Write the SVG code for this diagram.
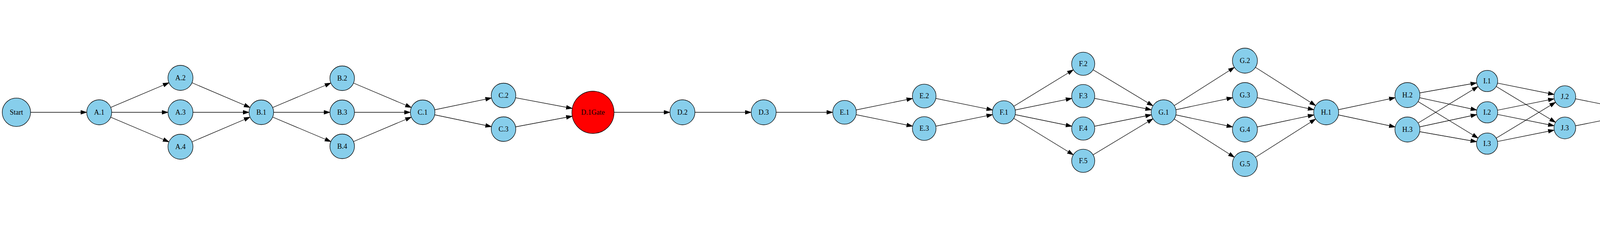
<svg xmlns="http://www.w3.org/2000/svg" width="7021" height="575" viewBox="0 0 7021 575">
<style>
.n circle{fill:#87ceeb;stroke:#000;stroke-width:1.3}
.n.gate circle{fill:#ff0000}
.n text{font-family:"Liberation Serif","Times New Roman",serif;font-size:18px;text-anchor:middle;fill:#000}
#connectors line{stroke:#000;stroke-width:1.3;fill:none}
.t32{marker-end:url(#m32)}.t31{marker-end:url(#m31)}.t30{marker-end:url(#m30)}.t29{marker-end:url(#m29)}
.t27{marker-end:url(#m27)}.t28{marker-end:url(#m28)}.t34{marker-end:url(#m34)}.t54{marker-end:url(#m54)}.t70{marker-end:url(#m70)}
</style>
<defs>
<path id="ah" d="M-15,-5 L0,0 L-15,5 Z" fill="#000" stroke="#000" stroke-width="1"/>
<marker id="m32" markerUnits="userSpaceOnUse" orient="auto" refX="32" refY="0" markerWidth="1" markerHeight="1" overflow="visible" style="overflow:visible"><use href="#ah"/></marker>
<marker id="m31" markerUnits="userSpaceOnUse" orient="auto" refX="31.5" refY="0" markerWidth="1" markerHeight="1" overflow="visible" style="overflow:visible"><use href="#ah"/></marker>
<marker id="m30" markerUnits="userSpaceOnUse" orient="auto" refX="30.3" refY="0" markerWidth="1" markerHeight="1" overflow="visible" style="overflow:visible"><use href="#ah"/></marker>
<marker id="m29" markerUnits="userSpaceOnUse" orient="auto" refX="29.6" refY="0" markerWidth="1" markerHeight="1" overflow="visible" style="overflow:visible"><use href="#ah"/></marker>
<marker id="m27" markerUnits="userSpaceOnUse" orient="auto" refX="27.2" refY="0" markerWidth="1" markerHeight="1" overflow="visible" style="overflow:visible"><use href="#ah"/></marker>
<marker id="m28" markerUnits="userSpaceOnUse" orient="auto" refX="27.8" refY="0" markerWidth="1" markerHeight="1" overflow="visible" style="overflow:visible"><use href="#ah"/></marker>
<marker id="m34" markerUnits="userSpaceOnUse" orient="auto" refX="34" refY="0" markerWidth="1" markerHeight="1" overflow="visible" style="overflow:visible"><use href="#ah"/></marker>
<marker id="m54" markerUnits="userSpaceOnUse" orient="auto" refX="54" refY="0" markerWidth="1" markerHeight="1" overflow="visible" style="overflow:visible"><use href="#ah"/></marker>
<marker id="m70" markerUnits="userSpaceOnUse" orient="auto" refX="70" refY="0" markerWidth="1" markerHeight="1" overflow="visible" style="overflow:visible"><use href="#ah"/></marker>
</defs>
<rect x="0" y="0" width="7021" height="575" fill="#fff"/>
<g id="connectors">
<line class="t32" x1="42" y1="287" x2="254" y2="287"/>
<line class="t32" x1="254" y1="287" x2="462" y2="199"/>
<line class="t32" x1="254" y1="287" x2="462" y2="287"/>
<line class="t32" x1="254" y1="287" x2="462" y2="375"/>
<line class="t31" x1="462" y1="199" x2="669" y2="287"/>
<line class="t31" x1="462" y1="287" x2="669" y2="287"/>
<line class="t31" x1="462" y1="375" x2="669" y2="287"/>
<line class="t31" x1="669" y1="287" x2="876" y2="200"/>
<line class="t31" x1="669" y1="287" x2="876" y2="287"/>
<line class="t31" x1="669" y1="287" x2="876" y2="374"/>
<line class="t31" x1="876" y1="200" x2="1082" y2="287"/>
<line class="t31" x1="876" y1="287" x2="1082" y2="287"/>
<line class="t31" x1="876" y1="374" x2="1082" y2="287"/>
<line class="t31" x1="1082" y1="287" x2="1289" y2="244"/>
<line class="t31" x1="1082" y1="287" x2="1289" y2="330"/>
<line class="t54" x1="1289" y1="244" x2="1518" y2="287"/>
<line class="t54" x1="1289" y1="330" x2="1518" y2="287"/>
<line class="t32" x1="1518" y1="287" x2="1747" y2="287"/>
<line class="t32" x1="1747" y1="287" x2="1955" y2="287"/>
<line class="t30" x1="1955" y1="287" x2="2162" y2="287"/>
<line class="t30" x1="2162" y1="287" x2="2366" y2="245.5"/>
<line class="t30" x1="2162" y1="287" x2="2366" y2="328.5"/>
<line class="t29" x1="2366" y1="245.5" x2="2570" y2="287"/>
<line class="t29" x1="2366" y1="328.5" x2="2570" y2="287"/>
<line class="t29" x1="2570" y1="287" x2="2773" y2="163"/>
<line class="t29" x1="2570" y1="287" x2="2773" y2="245.5"/>
<line class="t29" x1="2570" y1="287" x2="2773" y2="328.5"/>
<line class="t29" x1="2570" y1="287" x2="2773" y2="411"/>
<line class="t32" x1="2773" y1="163" x2="2979" y2="287"/>
<line class="t32" x1="2773" y1="245.5" x2="2979" y2="287"/>
<line class="t32" x1="2773" y1="328.5" x2="2979" y2="287"/>
<line class="t32" x1="2773" y1="411" x2="2979" y2="287"/>
<line class="t32" x1="2979" y1="287" x2="3187" y2="155"/>
<line class="t32" x1="2979" y1="287" x2="3187" y2="243"/>
<line class="t32" x1="2979" y1="287" x2="3187" y2="331"/>
<line class="t32" x1="2979" y1="287" x2="3187" y2="419"/>
<line class="t32" x1="3187" y1="155" x2="3395" y2="287"/>
<line class="t32" x1="3187" y1="243" x2="3395" y2="287"/>
<line class="t32" x1="3187" y1="331" x2="3395" y2="287"/>
<line class="t32" x1="3187" y1="419" x2="3395" y2="287"/>
<line class="t32" x1="3395" y1="287" x2="3603" y2="243"/>
<line class="t32" x1="3395" y1="287" x2="3603" y2="331"/>
<line class="t27" x1="3603" y1="243" x2="3807" y2="207"/>
<line class="t27" x1="3603" y1="243" x2="3807" y2="287"/>
<line class="t27" x1="3603" y1="243" x2="3807" y2="367"/>
<line class="t27" x1="3603" y1="331" x2="3807" y2="207"/>
<line class="t27" x1="3603" y1="331" x2="3807" y2="287"/>
<line class="t27" x1="3603" y1="331" x2="3807" y2="367"/>
<line class="t28" x1="3807" y1="207" x2="4006" y2="247"/>
<line class="t28" x1="3807" y1="207" x2="4006" y2="327"/>
<line class="t28" x1="3807" y1="287" x2="4006" y2="247"/>
<line class="t28" x1="3807" y1="287" x2="4006" y2="327"/>
<line class="t28" x1="3807" y1="367" x2="4006" y2="247"/>
<line class="t28" x1="3807" y1="367" x2="4006" y2="327"/>
<line class="t28" x1="4006" y1="247" x2="4206" y2="287"/>
<line class="t28" x1="4006" y1="327" x2="4206" y2="287"/>
<line class="t32" x1="4206" y1="287" x2="4410" y2="287"/>
<line class="t30" x1="4410" y1="287" x2="4616" y2="35"/>
<line class="t30" x1="4410" y1="287" x2="4616" y2="119"/>
<line class="t30" x1="4410" y1="287" x2="4616" y2="203"/>
<line class="t30" x1="4410" y1="287" x2="4616" y2="287"/>
<line class="t30" x1="4410" y1="287" x2="4616" y2="371"/>
<line class="t30" x1="4410" y1="287" x2="4616" y2="455"/>
<line class="t30" x1="4410" y1="287" x2="4616" y2="539"/>
<line class="t34" x1="4616" y1="35" x2="4825" y2="287"/>
<line class="t34" x1="4616" y1="119" x2="4825" y2="287"/>
<line class="t34" x1="4616" y1="203" x2="4825" y2="287"/>
<line class="t34" x1="4616" y1="287" x2="4825" y2="287"/>
<line class="t34" x1="4616" y1="371" x2="4825" y2="287"/>
<line class="t34" x1="4616" y1="455" x2="4825" y2="287"/>
<line class="t34" x1="4616" y1="539" x2="4825" y2="287"/>
<line class="t34" x1="4825" y1="287" x2="5039" y2="194"/>
<line class="t34" x1="4825" y1="287" x2="5039" y2="287"/>
<line class="t34" x1="4825" y1="287" x2="5039" y2="380"/>
<line class="t32" x1="5039" y1="194" x2="5249" y2="287"/>
<line class="t32" x1="5039" y1="287" x2="5249" y2="287"/>
<line class="t32" x1="5039" y1="380" x2="5249" y2="287"/>
<line class="t32" x1="5249" y1="287" x2="5457" y2="287"/>
<line class="t32" x1="5457" y1="287" x2="5666" y2="199"/>
<line class="t32" x1="5457" y1="287" x2="5666" y2="287"/>
<line class="t32" x1="5457" y1="287" x2="5666" y2="375"/>
<line class="t32" x1="5666" y1="199" x2="5874" y2="243"/>
<line class="t32" x1="5666" y1="199" x2="5874" y2="331"/>
<line class="t32" x1="5666" y1="287" x2="5874" y2="243"/>
<line class="t32" x1="5666" y1="287" x2="5874" y2="331"/>
<line class="t32" x1="5666" y1="375" x2="5874" y2="243"/>
<line class="t32" x1="5666" y1="375" x2="5874" y2="331"/>
<line class="t29" x1="5874" y1="243" x2="6078" y2="205.5"/>
<line class="t29" x1="5874" y1="243" x2="6078" y2="287"/>
<line class="t29" x1="5874" y1="243" x2="6078" y2="368.5"/>
<line class="t29" x1="5874" y1="331" x2="6078" y2="205.5"/>
<line class="t29" x1="5874" y1="331" x2="6078" y2="287"/>
<line class="t29" x1="5874" y1="331" x2="6078" y2="368.5"/>
<line class="t32" x1="6078" y1="205.5" x2="6283" y2="287"/>
<line class="t32" x1="6078" y1="287" x2="6283" y2="287"/>
<line class="t32" x1="6078" y1="368.5" x2="6283" y2="287"/>
<line class="t32" x1="6283" y1="287" x2="6491" y2="287"/>
<line class="t32" x1="6491" y1="287" x2="6699" y2="287"/>
<line class="t70" x1="6699" y1="287" x2="6945" y2="287"/>
</g>
<g id="node-Start" class="n"><circle cx="42" cy="287" r="36.3"/><text x="42" y="292.5">Start</text></g>
<g id="node-A1" class="n"><circle cx="254" cy="287" r="32"/><text x="254" y="292.5">A.1</text></g>
<g id="node-A2" class="n"><circle cx="462" cy="199" r="32"/><text x="462" y="204.5">A.2</text></g>
<g id="node-A3" class="n"><circle cx="462" cy="287" r="32"/><text x="462" y="292.5">A.3</text></g>
<g id="node-A4" class="n"><circle cx="462" cy="375" r="32"/><text x="462" y="380.5">A.4</text></g>
<g id="node-B1" class="n"><circle cx="669" cy="287" r="31.5"/><text x="669" y="292.5">B.1</text></g>
<g id="node-B2" class="n"><circle cx="876" cy="200" r="31.5"/><text x="876" y="205.5">B.2</text></g>
<g id="node-B3" class="n"><circle cx="876" cy="287" r="31.5"/><text x="876" y="292.5">B.3</text></g>
<g id="node-B4" class="n"><circle cx="876" cy="374" r="31.5"/><text x="876" y="379.5">B.4</text></g>
<g id="node-C1" class="n"><circle cx="1082" cy="287" r="31.5"/><text x="1082" y="292.5">C.1</text></g>
<g id="node-C2" class="n"><circle cx="1289" cy="244" r="31.5"/><text x="1289" y="249.5">C.2</text></g>
<g id="node-C3" class="n"><circle cx="1289" cy="330" r="31.5"/><text x="1289" y="335.5">C.3</text></g>
<g id="node-D1Gate" class="n gate"><circle cx="1518" cy="287" r="54"/><text x="1518" y="292.5">D.1Gate</text></g>
<g id="node-D2" class="n"><circle cx="1747" cy="287" r="32"/><text x="1747" y="292.5">D.2</text></g>
<g id="node-D3" class="n"><circle cx="1955" cy="287" r="32"/><text x="1955" y="292.5">D.3</text></g>
<g id="node-E1" class="n"><circle cx="2162" cy="287" r="30.3"/><text x="2162" y="292.5">E.1</text></g>
<g id="node-E2" class="n"><circle cx="2366" cy="245.5" r="30.3"/><text x="2366" y="251">E.2</text></g>
<g id="node-E3" class="n"><circle cx="2366" cy="328.5" r="30.3"/><text x="2366" y="334">E.3</text></g>
<g id="node-F1" class="n"><circle cx="2570" cy="287" r="29.6"/><text x="2570" y="292.5">F.1</text></g>
<g id="node-F2" class="n"><circle cx="2773" cy="163" r="29.6"/><text x="2773" y="168.5">F.2</text></g>
<g id="node-F3" class="n"><circle cx="2773" cy="245.5" r="29.6"/><text x="2773" y="251">F.3</text></g>
<g id="node-F4" class="n"><circle cx="2773" cy="328.5" r="29.6"/><text x="2773" y="334">F.4</text></g>
<g id="node-F5" class="n"><circle cx="2773" cy="411" r="29.6"/><text x="2773" y="416.5">F.5</text></g>
<g id="node-G1" class="n"><circle cx="2979" cy="287" r="32"/><text x="2979" y="292.5">G.1</text></g>
<g id="node-G2" class="n"><circle cx="3187" cy="155" r="32"/><text x="3187" y="160.5">G.2</text></g>
<g id="node-G3" class="n"><circle cx="3187" cy="243" r="32"/><text x="3187" y="248.5">G.3</text></g>
<g id="node-G4" class="n"><circle cx="3187" cy="331" r="32"/><text x="3187" y="336.5">G.4</text></g>
<g id="node-G5" class="n"><circle cx="3187" cy="419" r="32"/><text x="3187" y="424.5">G.5</text></g>
<g id="node-H1" class="n"><circle cx="3395" cy="287" r="32"/><text x="3395" y="292.5">H.1</text></g>
<g id="node-H2" class="n"><circle cx="3603" cy="243" r="32"/><text x="3603" y="248.5">H.2</text></g>
<g id="node-H3" class="n"><circle cx="3603" cy="331" r="32"/><text x="3603" y="336.5">H.3</text></g>
<g id="node-I1" class="n"><circle cx="3807" cy="207" r="27.2"/><text x="3807" y="212.5">I.1</text></g>
<g id="node-I2" class="n"><circle cx="3807" cy="287" r="27.2"/><text x="3807" y="292.5">I.2</text></g>
<g id="node-I3" class="n"><circle cx="3807" cy="367" r="27.2"/><text x="3807" y="372.5">I.3</text></g>
<g id="node-J2" class="n"><circle cx="4006" cy="247" r="27.8"/><text x="4006" y="252.5">J.2</text></g>
<g id="node-J3" class="n"><circle cx="4006" cy="327" r="27.8"/><text x="4006" y="332.5">J.3</text></g>
<g id="node-J1" class="n"><circle cx="4206" cy="287" r="27.8"/><text x="4206" y="292.5">J.1</text></g>
<g id="node-K1" class="n"><circle cx="4410" cy="287" r="32"/><text x="4410" y="292.5">K.1</text></g>
<g id="node-L1" class="n"><circle cx="4616" cy="35" r="30.3"/><text x="4616" y="40.5">L.1</text></g>
<g id="node-L2" class="n"><circle cx="4616" cy="119" r="30.3"/><text x="4616" y="124.5">L.2</text></g>
<g id="node-L3" class="n"><circle cx="4616" cy="203" r="30.3"/><text x="4616" y="208.5">L.3</text></g>
<g id="node-L4" class="n"><circle cx="4616" cy="287" r="30.3"/><text x="4616" y="292.5">L.4</text></g>
<g id="node-L5" class="n"><circle cx="4616" cy="371" r="30.3"/><text x="4616" y="376.5">L.5</text></g>
<g id="node-L6" class="n"><circle cx="4616" cy="455" r="30.3"/><text x="4616" y="460.5">L.6</text></g>
<g id="node-L7" class="n"><circle cx="4616" cy="539" r="30.3"/><text x="4616" y="544.5">L.7</text></g>
<g id="node-M1" class="n"><circle cx="4825" cy="287" r="34"/><text x="4825" y="292.5">M.1</text></g>
<g id="node-M2" class="n"><circle cx="5039" cy="194" r="34"/><text x="5039" y="199.5">M.2</text></g>
<g id="node-M3" class="n"><circle cx="5039" cy="287" r="34"/><text x="5039" y="292.5">M.3</text></g>
<g id="node-M4" class="n"><circle cx="5039" cy="380" r="34"/><text x="5039" y="385.5">M.4</text></g>
<g id="node-N1" class="n"><circle cx="5249" cy="287" r="32"/><text x="5249" y="292.5">N.1</text></g>
<g id="node-N2" class="n"><circle cx="5457" cy="287" r="32"/><text x="5457" y="292.5">N.2</text></g>
<g id="node-O1" class="n"><circle cx="5666" cy="199" r="32"/><text x="5666" y="204.5">O.1</text></g>
<g id="node-O2" class="n"><circle cx="5666" cy="287" r="32"/><text x="5666" y="292.5">O.2</text></g>
<g id="node-O3" class="n"><circle cx="5666" cy="375" r="32"/><text x="5666" y="380.5">O.3</text></g>
<g id="node-O4" class="n"><circle cx="5874" cy="243" r="32"/><text x="5874" y="248.5">O.4</text></g>
<g id="node-O5" class="n"><circle cx="5874" cy="331" r="32"/><text x="5874" y="336.5">O.5</text></g>
<g id="node-P1" class="n"><circle cx="6078" cy="205.5" r="29.6"/><text x="6078" y="211">P.1</text></g>
<g id="node-P2" class="n"><circle cx="6078" cy="287" r="29.6"/><text x="6078" y="292.5">P.2</text></g>
<g id="node-P3" class="n"><circle cx="6078" cy="368.5" r="29.6"/><text x="6078" y="374">P.3</text></g>
<g id="node-Q1" class="n"><circle cx="6283" cy="287" r="32"/><text x="6283" y="292.5">Q.1</text></g>
<g id="node-Q2" class="n"><circle cx="6491" cy="287" r="32"/><text x="6491" y="292.5">Q.2</text></g>
<g id="node-Q3" class="n"><circle cx="6699" cy="287" r="32"/><text x="6699" y="292.5">Q.3</text></g>
<g id="node-Completion" class="n"><circle cx="6945" cy="287" r="70"/><text x="6945" y="292.5">Completion</text></g>
</svg>
